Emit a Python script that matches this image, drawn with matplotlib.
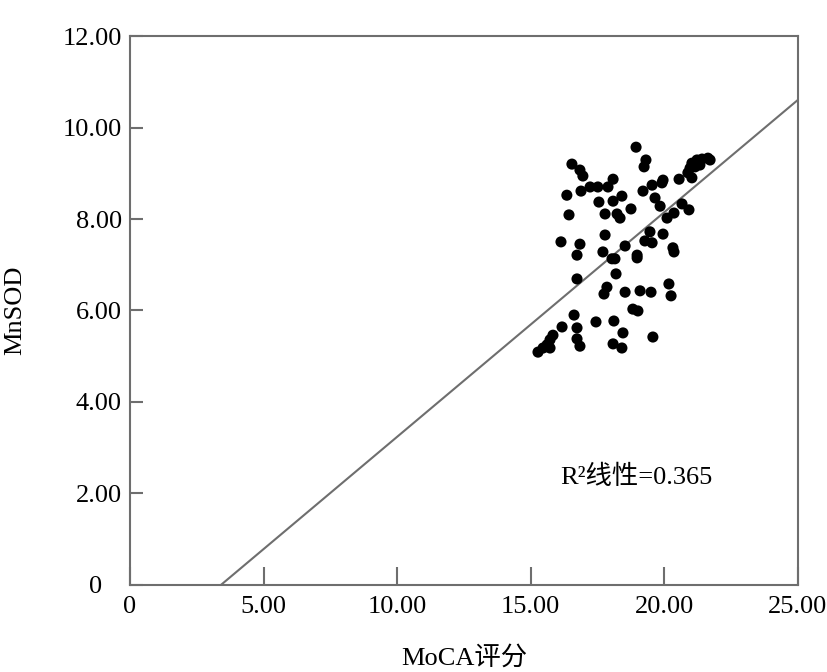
import numpy as np
import matplotlib.pyplot as plt
from matplotlib.transforms import ScaledTranslation

plt.rcParams['font.family'] = ['Liberation Serif', 'Noto Sans CJK SC', 'DejaVu Sans']

# MoCA评分 (x) / MnSOD (y)
moca = [18.94, 16.54, 16.84, 16.95, 19.31, 19.24, 18.08, 16.35, 16.88, 17.22,
        17.51, 17.89, 18.41, 17.55, 18.08, 16.43, 17.78, 18.23, 18.34, 17.78,
        16.13, 16.84, 18.53, 21.03, 21.22, 21.41, 21.63, 21.71, 20.96, 21.15,
        21.33, 20.88, 21.03, 20.55, 19.95, 19.91, 19.54, 19.20, 19.65, 19.84,
        20.66, 20.92, 18.75, 20.36, 20.10, 19.46, 19.95, 19.27, 19.54, 20.32,
        20.36, 16.73, 17.70, 18.04, 18.15, 18.98, 18.98, 18.19, 16.73, 17.85,
        17.74, 18.53, 19.09, 19.50, 20.17, 20.25, 18.82, 19.01, 16.62, 17.44,
        18.11, 16.17, 16.73, 18.45, 19.57, 16.73, 16.84, 18.08, 18.41, 15.83,
        15.72, 15.61, 15.46, 15.27, 15.72]
mnsod = [9.57, 9.20, 9.07, 8.94, 9.29, 9.14, 8.87, 8.52, 8.61, 8.70,
         8.70, 8.70, 8.50, 8.37, 8.39, 8.09, 8.11, 8.11, 8.02, 7.65,
         7.50, 7.45, 7.41, 9.22, 9.29, 9.31, 9.33, 9.29, 9.11, 9.14,
         9.18, 9.01, 8.90, 8.87, 8.85, 8.79, 8.74, 8.61, 8.46, 8.28,
         8.33, 8.20, 8.22, 8.13, 8.02, 7.72, 7.67, 7.52, 7.48, 7.37,
         7.28, 7.21, 7.28, 7.13, 7.13, 7.21, 7.15, 6.80, 6.69, 6.51,
         6.36, 6.40, 6.43, 6.40, 6.58, 6.32, 6.03, 5.99, 5.90, 5.75,
         5.77, 5.64, 5.62, 5.51, 5.42, 5.38, 5.22, 5.27, 5.18, 5.46,
         5.36, 5.25, 5.18, 5.09, 5.18]

# linear fit line as drawn
fit_slope = 0.491
fit_intercept = -1.67
r2_text = 'R²线性=0.365'

xticks = [0, 5, 10, 15, 20, 25]
xticklabels = ['0', '5.00', '10.00', '15.00', '20.00', '25.00']
yticks = [0, 2, 4, 6, 8, 10, 12]
yticklabels = ['0', '2.00', '4.00', '6.00', '8.00', '10.00', '12.00']

fig = plt.figure(figsize=(8.27, 6.72), dpi=100)
ax = fig.add_axes([0.1572, 0.1295, 0.8077, 0.8169])

ax.scatter(moca, mnsod, s=64, c='black', edgecolors='none', zorder=3)

x0 = -fit_intercept / fit_slope
xs = np.array([x0, 25])
ax.plot(xs, fit_slope * xs + fit_intercept, color='#6e6e6e', lw=1.5, zorder=2)

ax.set_xlim(0, 25)
ax.set_ylim(0, 12)
ax.set_xticks(xticks)
ax.set_xticklabels(xticklabels)
ax.set_yticks(yticks)
ax.set_yticklabels(yticklabels)

for sp in ax.spines.values():
    sp.set_color('#6e6e6e')
    sp.set_linewidth(1.5)

ax.tick_params(axis='x', direction='in', length=13, width=1.5, color='#6e6e6e',
               labelsize=19, pad=8)
ax.tick_params(axis='y', direction='in', length=9, width=1.5, color='#6e6e6e',
               labelsize=19, pad=6)

# the y "0" sits a bit further left in the original
ylabs = ax.get_yticklabels()
ylabs[0].set_transform(ylabs[0].get_transform() +
                       ScaledTranslation(-0.2, 0, fig.dpi_scale_trans))

ax.set_xlabel('MoCA评分', fontsize=19, labelpad=20)
ax.set_ylabel('MnSOD', fontsize=19, labelpad=26)

ax.text(16.1, 2.36, r2_text, fontsize=19, va='center', ha='left')

fig.savefig('out.png', dpi=100)
